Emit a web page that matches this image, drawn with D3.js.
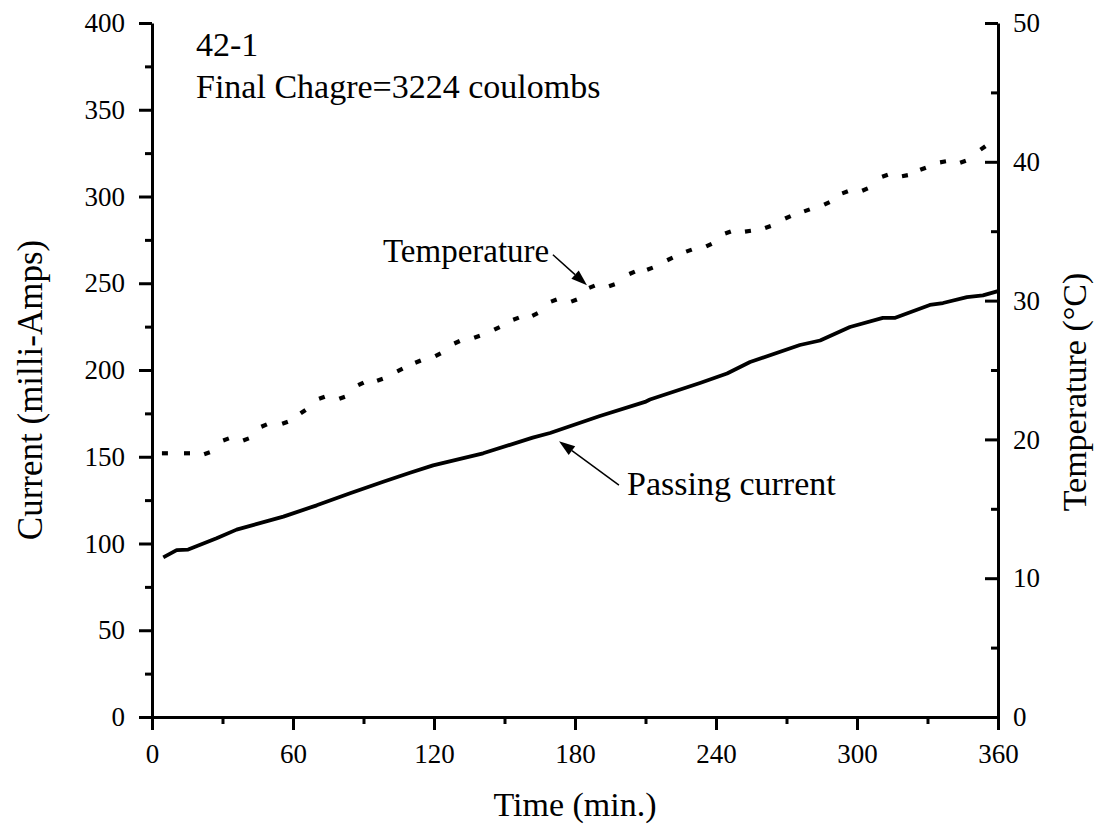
<!DOCTYPE html>
<html><head><meta charset="utf-8">
<script src="https://cdn.jsdelivr.net/npm/d3@7"></script>
<style>body{margin:0;background:#fff}</style>
</head><body>
<svg id="chart" width="1100" height="829"></svg>
<script>
// ---- data ----
const timeTicks = [0, 60, 120, 180, 240, 300, 360];
const timeMinor = [30, 90, 150, 210, 270, 330];
const currentTicks = [0, 50, 100, 150, 200, 250, 300, 350, 400];
const currentMinor = [25, 75, 125, 175, 225, 275, 325, 375];
const tempTicks = [0, 10, 20, 30, 40, 50];
const tempMinor = [5, 15, 25, 35, 45];

const currentTime  = [4.8, 10.5, 15.4, 27.5, 36, 55.9, 70.1, 84.3, 98.4, 109.8, 119.6, 140.9, 162, 169.4, 190.6, 209.8, 211.9, 233.2, 244.7, 254.5, 275.7, 284.3, 297, 311, 316, 331, 336.6, 346.8, 353.6, 360];
const currentValue = [92, 96.2, 96.5, 103, 108, 115.5, 122, 129, 135.6, 140.8, 145, 152, 161, 163.7, 173.5, 181.6, 183, 192.5, 198, 204.6, 214.4, 217, 224.8, 230, 230, 237.5, 238.6, 242, 243, 245.5];

const tempTime  = [5.5, 14.9, 23.4, 31.5, 40, 47.7, 56.6, 64.3, 72.3, 80.9, 88.9, 97, 105.5, 113.2, 121.7, 129.8, 138.3, 146.8, 154.9, 163, 171, 179.6, 187.2, 195.7, 204.3, 211.9, 220.4, 228.5, 237, 245.1, 253.6, 262.1, 270.6, 278.7, 287.2, 294.9, 303.4, 311.9, 320.4, 328.1, 336.6, 345.1, 353.6];
const tempValue = [19, 19, 19, 20, 20, 21, 21.2, 22, 23, 23, 24, 24.3, 25, 25.6, 26.1, 27, 27.4, 28, 28.7, 29, 30, 30, 31, 31.1, 32, 32.3, 33, 33.6, 34, 34.9, 35, 35.3, 36, 36.5, 37, 37.8, 38, 39, 39, 39.5, 40, 40, 41];

const titleX = "Time (min.)";
const titleLeft = "Current (milli-Amps)";
const titleRight = "Temperature (\u00B0C)";
const noteLines = ["42-1", "Final Chagre=3224 coulombs"];
const tempLabel = "Temperature";
const currentLabel = "Passing current";
// arrows in data units: [tailTime, tailValue, tipTime, tipValue]
const tempArrow = [170.6, 33.3, 185.1, 31.1];
const currentArrow = [198.7, 133.7, 173.2, 159];

// ---- layout ----
const L = 152, R = 998, T = 23, B = 717;
const font = "'Liberation Serif','Times New Roman',serif";
const svg = d3.select("#chart");
const x = d3.scaleLinear([0, 360], [L, R]);
const yL = d3.scaleLinear([0, 400], [B, T]);
const yR = d3.scaleLinear([0, 50], [B, T]);

function styleAxis(g) {
  g.selectAll("path.domain").attr("stroke", "#000").attr("stroke-width", 3);
  g.selectAll(".tick line").attr("stroke", "#000").attr("stroke-width", 3);
  g.selectAll(".tick text").attr("fill", "#000").style("font-family", font).style("font-size", "27px");
}

// minor ticks
svg.append("g").attr("transform", `translate(${L},0)`)
  .call(d3.axisLeft(yL).tickValues(currentMinor).tickSize(7).tickFormat("").tickSizeOuter(0))
  .call(styleAxis).call(g => g.select(".domain").remove());
svg.append("g").attr("transform", `translate(0,${B})`)
  .call(d3.axisBottom(x).tickValues(timeMinor).tickSize(7).tickFormat("").tickSizeOuter(0))
  .call(styleAxis).call(g => g.select(".domain").remove());
svg.append("g").attr("transform", `translate(${R},0)`)
  .call(d3.axisRight(yR).tickValues(tempMinor).tickSize(-7).tickFormat("").tickSizeOuter(0))
  .call(styleAxis).call(g => g.select(".domain").remove());

// major axes
svg.append("g").attr("transform", `translate(${L},0)`)
  .call(d3.axisLeft(yL).tickValues(currentTicks).tickSize(13).tickPadding(14).tickSizeOuter(0))
  .call(styleAxis);
svg.append("g").attr("transform", `translate(0,${B})`)
  .call(d3.axisBottom(x).tickValues(timeTicks).tickSize(13).tickPadding(14).tickSizeOuter(0))
  .call(styleAxis);
svg.append("g").attr("transform", `translate(${R},0)`)
  .call(d3.axisRight(yR).tickValues(tempTicks).tickSize(-13).tickPadding(15).tickSizeOuter(0))
  .call(styleAxis);

// axis titles
svg.append("text").attr("x", (L + R) / 2).attr("y", 816).attr("text-anchor", "middle")
  .style("font-family", font).style("font-size", "34px").text(titleX);
svg.append("text").attr("transform", `translate(42,${(T + B) / 2 + 20}) rotate(-90)`).attr("text-anchor", "middle")
  .style("font-family", font).style("font-size", "35px").text(titleLeft);
svg.append("text").attr("transform", `translate(1086,${(T + B) / 2 + 22}) rotate(-90)`).attr("text-anchor", "middle")
  .style("font-family", font).style("font-size", "34px").text(titleRight);

// current line
const currentData = currentTime.map((t, i) => [t, currentValue[i]]);
svg.append("path").datum(currentData)
  .attr("fill", "none").attr("stroke", "#000").attr("stroke-width", 3.8).attr("stroke-linejoin", "round")
  .attr("d", d3.line().x(d => x(d[0])).y(d => yL(d[1])));

// temperature dotted line: short dashes oriented along the curve at each reading
const tp = tempTime.map((t, i) => [x(t), yR(tempValue[i])]);
svg.append("g").selectAll("line").data(tp).join("line")
  .each(function (p, i) {
    const a = tp[Math.max(0, i - 1)], b = tp[Math.min(tp.length - 1, i + 1)];
    let dx = b[0] - a[0], dy = b[1] - a[1];
    const len = Math.hypot(dx, dy) || 1; dx /= len; dy /= len;
    const h = 3;
    d3.select(this).attr("x1", p[0] - dx * h).attr("y1", p[1] - dy * h)
      .attr("x2", p[0] + dx * h).attr("y2", p[1] + dy * h);
  })
  .attr("stroke", "#000").attr("stroke-width", 4.2);

// notes
svg.append("text").attr("x", 196).attr("y", 56).style("font-family", font).style("font-size", "34px").text(noteLines[0]);
svg.append("text").attr("x", 196).attr("y", 98).style("font-family", font).style("font-size", "34px").text(noteLines[1]);

// labels with arrows
svg.append("text").attr("x", 383).attr("y", 262).style("font-family", font).style("font-size", "33px").text(tempLabel);
svg.append("text").attr("x", 627).attr("y", 495).style("font-family", font).style("font-size", "34px").text(currentLabel);

function arrow(a, yScale) {
  const x0 = x(a[0]), y0 = yScale(a[1]), x1 = x(a[2]), y1 = yScale(a[3]);
  let dx = x1 - x0, dy = y1 - y0; const len = Math.hypot(dx, dy); dx /= len; dy /= len;
  const hl = 16, hw = 5.5;
  const bx = x1 - dx * hl, by = y1 - dy * hl;
  svg.append("line").attr("x1", x0).attr("y1", y0).attr("x2", bx).attr("y2", by)
    .attr("stroke", "#000").attr("stroke-width", 1.5);
  svg.append("path").attr("fill", "#000")
    .attr("d", `M${x1},${y1}L${bx - dy * hw},${by + dx * hw}L${bx + dy * hw},${by - dx * hw}Z`);
}
arrow(tempArrow, yR);
arrow(currentArrow, yL);
</script>
</body></html>
